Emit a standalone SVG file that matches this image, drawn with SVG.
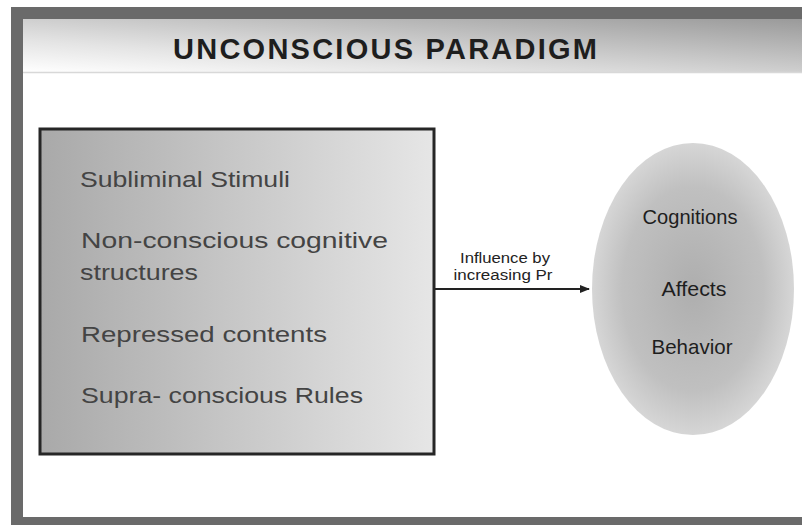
<svg xmlns="http://www.w3.org/2000/svg" width="802" height="525" viewBox="0 0 802 525">
<defs>
<linearGradient id="band" x1="0" y1="1" x2="1" y2="0">
<stop offset="0" stop-color="#ffffff"/>
<stop offset="0.3" stop-color="#e4e4e4"/>
<stop offset="1" stop-color="#9a9a9a"/>
</linearGradient>
<linearGradient id="boxg" x1="0" y1="0" x2="1" y2="0">
<stop offset="0" stop-color="#a9a9a9"/>
<stop offset="1" stop-color="#e6e6e6"/>
</linearGradient>
<radialGradient id="ellg" cx="0.5" cy="0.5" r="0.5">
<stop offset="0" stop-color="#aeaeae"/>
<stop offset="0.7" stop-color="#c0c0c0"/>
<stop offset="1" stop-color="#d6d6d6"/>
</radialGradient>
<marker id="arr" markerWidth="10" markerHeight="10" refX="9" refY="5" orient="auto" markerUnits="userSpaceOnUse">
<path d="M0,1 L10,5 L0,9 Z" fill="#222"/>
</marker>
<style>
.item{font-family:"Liberation Sans",Arial,sans-serif;font-size:22px;fill:#444;}
.ell{font-family:"Liberation Sans",Arial,sans-serif;font-size:21px;fill:#1e1e1e;text-anchor:middle;}
.lbl{font-family:"Liberation Sans",Arial,sans-serif;font-size:14px;fill:#222;text-anchor:middle;}
</style>
</defs>
<g id="frame">
<rect x="11" y="7" width="791" height="518" fill="#6a6a6a"/>
<rect x="23" y="19" width="779" height="498" fill="#ffffff"/>
<rect x="23" y="19" width="779" height="53" fill="url(#band)"/>
<line x1="23" y1="72.5" x2="802" y2="72.5" stroke="#d8d8d8" stroke-width="1.5"/>
<text x="385" y="59" font-family="'Liberation Sans',Arial,sans-serif" font-weight="bold" font-size="29" fill="#1e1e1e" text-anchor="middle" textLength="424" lengthAdjust="spacing">UNCONSCIOUS PARADIGM</text>
</g>
<g id="sources">
<rect x="40" y="129" width="394" height="325" fill="url(#boxg)" stroke="#262626" stroke-width="3"/>
<text class="item" x="80" y="187" textLength="210" lengthAdjust="spacingAndGlyphs">Subliminal Stimuli</text>
<text class="item" x="81" y="248" textLength="307" lengthAdjust="spacingAndGlyphs">Non-conscious cognitive</text>
<text class="item" x="80" y="280" textLength="118" lengthAdjust="spacingAndGlyphs">structures</text>
<text class="item" x="81" y="342" textLength="246" lengthAdjust="spacingAndGlyphs">Repressed contents</text>
<text class="item" x="81" y="403" textLength="282" lengthAdjust="spacingAndGlyphs">Supra- conscious Rules</text>
</g>
<g id="outcomes">
<ellipse cx="693" cy="289" rx="101" ry="146" fill="url(#ellg)"/>
<text class="ell" x="690" y="224" textLength="95" lengthAdjust="spacingAndGlyphs">Cognitions</text>
<text class="ell" x="694" y="296" textLength="65" lengthAdjust="spacingAndGlyphs">Affects</text>
<text class="ell" x="692" y="354" textLength="81" lengthAdjust="spacingAndGlyphs">Behavior</text>
</g>
<g id="connectors">
<line x1="435" y1="289" x2="589" y2="289" stroke="#222" stroke-width="2" marker-end="url(#arr)"/>
<text class="lbl" x="505" y="263" textLength="90" lengthAdjust="spacingAndGlyphs">Influence by</text>
<text class="lbl" x="503" y="280" textLength="99" lengthAdjust="spacingAndGlyphs">increasing Pr</text>
</g>
</svg>
